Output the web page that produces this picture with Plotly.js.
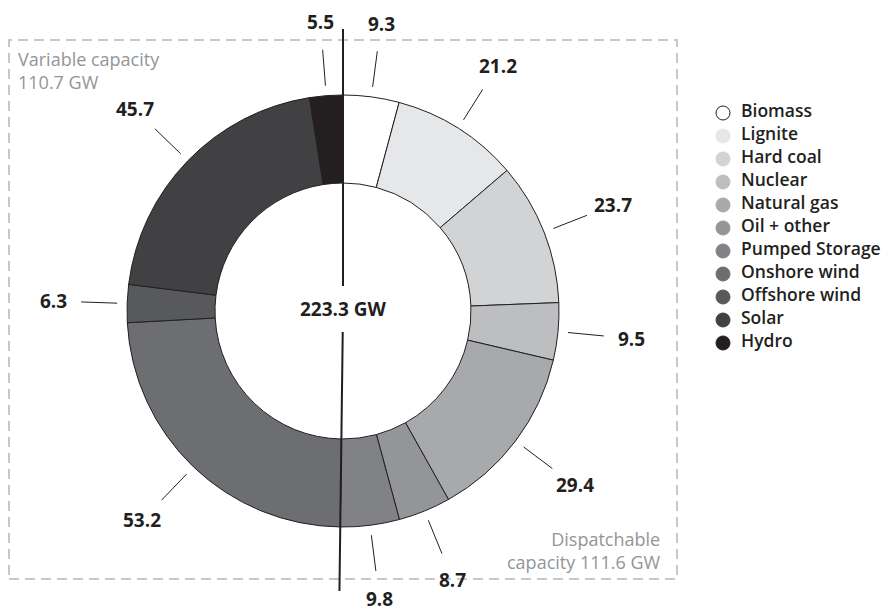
<!DOCTYPE html>
<html>
<head>
<meta charset="utf-8">
<script src="https://cdn.plot.ly/plotly-3.0.1.min.js"></script>
<style>
  html, body { margin: 0; padding: 0; background: #ffffff; }
  #chart { width: 886px; height: 611px; }
</style>
</head>
<body>
<div id="chart"></div>
<script>
// Installed power-generation capacity by source (GW)
const sources = ['Biomass', 'Lignite', 'Hard coal', 'Nuclear', 'Natural gas', 'Oil + other',
                 'Pumped Storage', 'Onshore wind', 'Offshore wind', 'Solar', 'Hydro'];
const capacityGW = [9.3, 21.2, 23.7, 9.5, 29.4, 8.7, 9.8, 53.2, 6.3, 45.7, 5.5];
const dispatchableCount = 7; // the first seven sources are dispatchable
const shades = ['#ffffff', '#e6e7e8', '#d1d3d4', '#bcbec0', '#a7a9ac', '#939598',
                '#808285', '#6d6e71', '#58595b', '#414042', '#231f20'];
const totalLabel = '223.3 GW';
const variableLabel = 'Variable capacity<br>110.7 GW';
const dispatchableLabel = 'Dispatchable<br>capacity 111.6 GW';

// page geometry (pixels)
const W = 886, H = 611;
const CX = 343, CY = 311, R = 216, R_IN = 128;
const px = x => x / W;
const py = y => 1 - y / H;

const INK = '#231f20';
const FONT = 'Open Sans, Noto Sans, sans-serif';

const total = capacityGW.reduce((a, b) => a + b, 0);
const angleOf = v => v / total * 360;               // clockwise from 12 o'clock
const polar = (deg, r) => {
  const a = deg * Math.PI / 180;
  return [CX + r * Math.sin(a), CY - r * Math.cos(a)];
};

// donut
const pie = {
  type: 'pie',
  values: capacityGW,
  labels: sources,
  sort: false,
  direction: 'clockwise',
  rotation: 0,
  hole: R_IN / R,
  textinfo: 'none',
  hoverinfo: 'skip',
  showlegend: false,
  marker: { colors: shades, line: { color: INK, width: 1 } },
  domain: { x: [px(CX - R), px(CX + R)], y: [py(CY + R), py(CY - R)] }
};

// key: round swatches with source names, one row per source
// (x axis of the key: 1 unit = 10 px)
const keyIndex = sources.map((_, i) => i);
const keyDots = {
  type: 'scatter',
  mode: 'markers',
  x: sources.map(() => 0),
  y: keyIndex,
  hoverinfo: 'skip',
  showlegend: false,
  marker: {
    symbol: 'circle', size: 14, color: shades,
    line: { color: shades.map((c, i) => i === 0 ? INK : c), width: 1 }
  }
};
const keyNames = {
  type: 'scatter',
  mode: 'text',
  x: sources.map(() => 1.8),
  y: keyIndex,
  text: sources,
  textposition: 'middle right',
  textfont: { family: FONT, size: 17.5, color: INK, weight: 600 },
  cliponaxis: false,
  hoverinfo: 'skip',
  showlegend: false
};

// leader lines and value labels around the ring
const shapes = [];
const annotations = [];
let cum = 0;
capacityGW.forEach(v => {
  const mid = angleOf(cum + v / 2);
  const [x0, y0] = polar(mid, 226);
  const [x1, y1] = polar(mid, 262);
  shapes.push({ type: 'line', xref: 'paper', yref: 'paper',
    x0: px(x0), y0: py(y0), x1: px(x1), y1: py(y1),
    line: { color: INK, width: 1 } });
  const [lx, ly] = polar(mid, 290);
  annotations.push({ xref: 'paper', yref: 'paper', x: px(lx), y: py(ly),
    xanchor: 'center', yanchor: 'middle', showarrow: false,
    text: v.toFixed(1),
    font: { family: FONT, size: 19, color: INK, weight: 700 } });
  cum += v;
});

// divider between variable and dispatchable capacity
const dispatchableSum = capacityGW.slice(0, dispatchableCount).reduce((a, b) => a + b, 0);
const splitAngle = angleOf(dispatchableSum);
[[polar(0, 25), polar(0, 282)], [polar(splitAngle, 21), polar(splitAngle, 280)]].forEach(([a, b]) =>
  shapes.push({ type: 'line', xref: 'paper', yref: 'paper',
    x0: px(a[0]), y0: py(a[1]), x1: px(b[0]), y1: py(b[1]),
    line: { color: INK, width: 2 } }));

// dashed frame behind the ring
shapes.push({ type: 'rect', xref: 'paper', yref: 'paper', layer: 'below',
  x0: px(9), x1: px(677), y0: py(579), y1: py(40),
  line: { color: '#c7c8ca', width: 2, dash: '10px,6px' } });

annotations.push(
  { xref: 'paper', yref: 'paper', x: px(CX), y: py(CY - 2), xanchor: 'center', yanchor: 'middle',
    showarrow: false, text: totalLabel, font: { family: FONT, size: 19, color: INK, weight: 700 } },
  { xref: 'paper', yref: 'paper', x: px(16), y: py(70), xanchor: 'left', yanchor: 'middle', align: 'left',
    showarrow: false, text: variableLabel, font: { family: FONT, size: 18, color: '#939598' } },
  { xref: 'paper', yref: 'paper', x: px(663), y: py(550), xanchor: 'right', yanchor: 'middle', align: 'right',
    showarrow: false, text: dispatchableLabel, font: { family: FONT, size: 18, color: '#939598' } }
);

// key rows are 23 px apart, first row centred at y = 113
const ROW = 23, KEY_TOP = 113, KEY_X = 723;
const layout = {
  width: W, height: H,
  margin: { l: 0, r: 0, t: 0, b: 0 },
  paper_bgcolor: '#ffffff', plot_bgcolor: 'rgba(0,0,0,0)',
  showlegend: false,
  xaxis: { visible: false, range: [-1, 3], domain: [px(KEY_X - 10), px(KEY_X + 30)], fixedrange: true },
  yaxis: { visible: false, range: [sources.length - 0.5, -0.5],
           domain: [py(KEY_TOP + (sources.length - 0.5) * ROW), py(KEY_TOP - 0.5 * ROW)], fixedrange: true },
  shapes: shapes,
  annotations: annotations
};

Plotly.newPlot('chart', [pie, keyDots, keyNames], layout, { staticPlot: true, displayModeBar: false });
</script>
</body>
</html>
